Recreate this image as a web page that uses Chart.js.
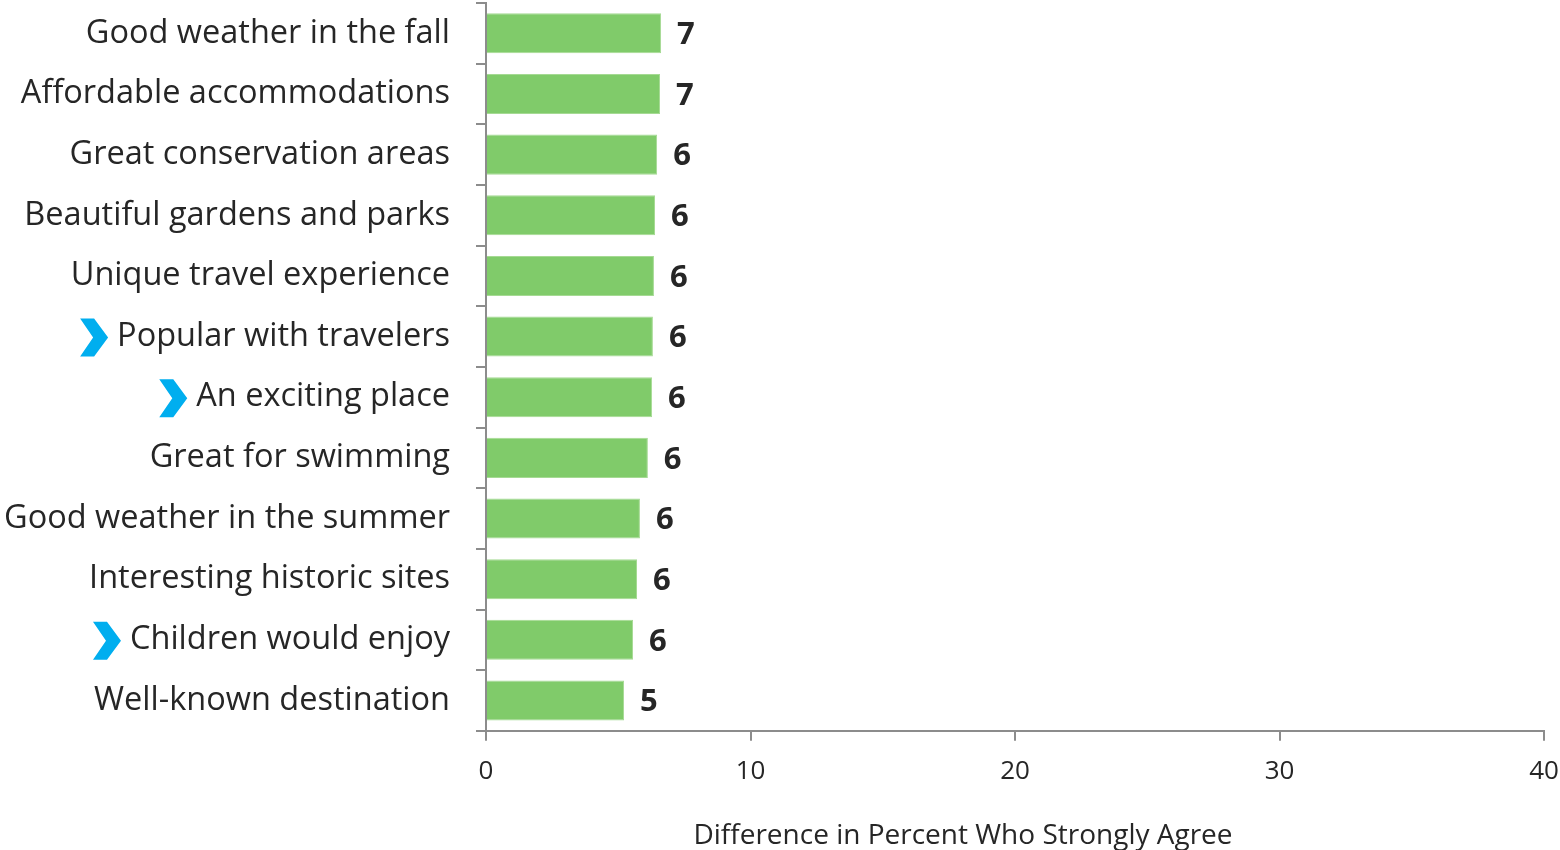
<!DOCTYPE html>
<html>
<head>
    <meta charset="UTF-8">
    <title>Difference in Percent Who Strongly Agree</title>
    <script src="https://cdn.jsdelivr.net/npm/chart.js"></script>
    <style>
        html, body { margin: 0; padding: 0; background: #fff; overflow: hidden; }
        #chart { display: block; }
    </style>
</head>
<body>
<canvas id="chart" width="1560" height="850"></canvas>
<script>
    // Data
    const categories = [
        'Good weather in the fall',
        'Affordable accommodations',
        'Great conservation areas',
        'Beautiful gardens and parks',
        'Unique travel experience',
        'Popular with travelers',
        'An exciting place',
        'Great for swimming',
        'Good weather in the summer',
        'Interesting historic sites',
        'Children would enjoy',
        'Well-known destination'
    ];
    const differences = [6.62, 6.58, 6.47, 6.39, 6.35, 6.31, 6.28, 6.12, 5.82, 5.71, 5.56, 5.22];
    const flagged = ['Popular with travelers', 'An exciting place', 'Children would enjoy'];
    const xTicks = [0, 10, 20, 30, 40];
    const axisTitle = 'Difference in Percent Who Strongly Agree';

    const FONT = '"Open Sans", "Noto Sans", sans-serif';
    const TEXT = '#262626';
    const LABEL_SIZE = 32.5;

    // value labels, chevrons and the axis title
    const extras = {
        id: 'extras',
        afterDatasetsDraw(chart) {
            const ctx = chart.ctx;
            const meta = chart.getDatasetMeta(0);
            ctx.save();
            ctx.fillStyle = TEXT;
            ctx.font = 'bold 31px ' + FONT;
            ctx.textAlign = 'left';
            ctx.textBaseline = 'middle';
            meta.data.forEach((bar, i) => {
                ctx.fillText(Math.round(differences[i]), bar.x + 16, bar.y + 2);
            });
            ctx.restore();
        },
        afterDraw(chart) {
            const ctx = chart.ctx;
            const y = chart.scales.y;
            ctx.save();
            ctx.font = LABEL_SIZE + 'px ' + FONT;
            const right = y.right - 10 - 26;
            categories.forEach((c, i) => {
                if (!flagged.includes(c)) return;
                const cy = y.getPixelForValue(i) + 1;
                const w = ctx.measureText(c).width;
                const x0 = right - w - 10 - 27;
                ctx.fillStyle = '#00AEEF';
                ctx.beginPath();
                ctx.moveTo(x0, cy - 19);
                ctx.lineTo(x0 + 14, cy - 19);
                ctx.lineTo(x0 + 28, cy);
                ctx.lineTo(x0 + 14, cy + 19);
                ctx.lineTo(x0, cy + 19);
                ctx.lineTo(x0 + 13, cy);
                ctx.closePath();
                ctx.fill();
            });
            ctx.fillStyle = TEXT;
            ctx.font = '28px ' + FONT;
            ctx.textAlign = 'center';
            ctx.textBaseline = 'middle';
            ctx.fillText(axisTitle, 963, 836);
            ctx.restore();
        }
    };

    new Chart(document.getElementById('chart'), {
        type: 'bar',
        data: {
            labels: categories,
            datasets: [{
                data: differences,
                backgroundColor: '#80CB6A',
                borderColor: '#A5DA93',
                borderWidth: 1,
                categoryPercentage: 0.66,
                barPercentage: 1.0
            }]
        },
        options: {
            indexAxis: 'y',
            responsive: false,
            animation: false,
            layout: { padding: { top: 3, right: 16, bottom: 48, left: 0 } },
            plugins: {
                legend: { display: false },
                tooltip: { enabled: false }
            },
            scales: {
                x: {
                    min: 0,
                    max: 40,
                    afterBuildTicks: (s) => { s.ticks = xTicks.map(v => ({ value: v })); },
                    afterFit: (s) => { s.paddingLeft = 0; s.paddingRight = 0; },
                    grid: { drawOnChartArea: false, color: '#8c8c8c', tickLength: 10, lineWidth: 2 },
                    border: { color: '#8c8c8c', width: 2 },
                    ticks: { color: TEXT, font: { family: FONT, size: 26 }, padding: 15 }
                },
                y: {
                    afterFit: (s) => { s.width = 486; s.paddingTop = 0; s.paddingBottom = 0; },
                    grid: { drawOnChartArea: false, color: '#8c8c8c', tickLength: 10, lineWidth: 2, offset: true },
                    border: { color: '#8c8c8c', width: 2 },
                    ticks: { color: TEXT, font: { family: FONT, size: LABEL_SIZE }, padding: 26 }
                }
            }
        },
        plugins: [extras]
    });
</script>
</body>
</html>
